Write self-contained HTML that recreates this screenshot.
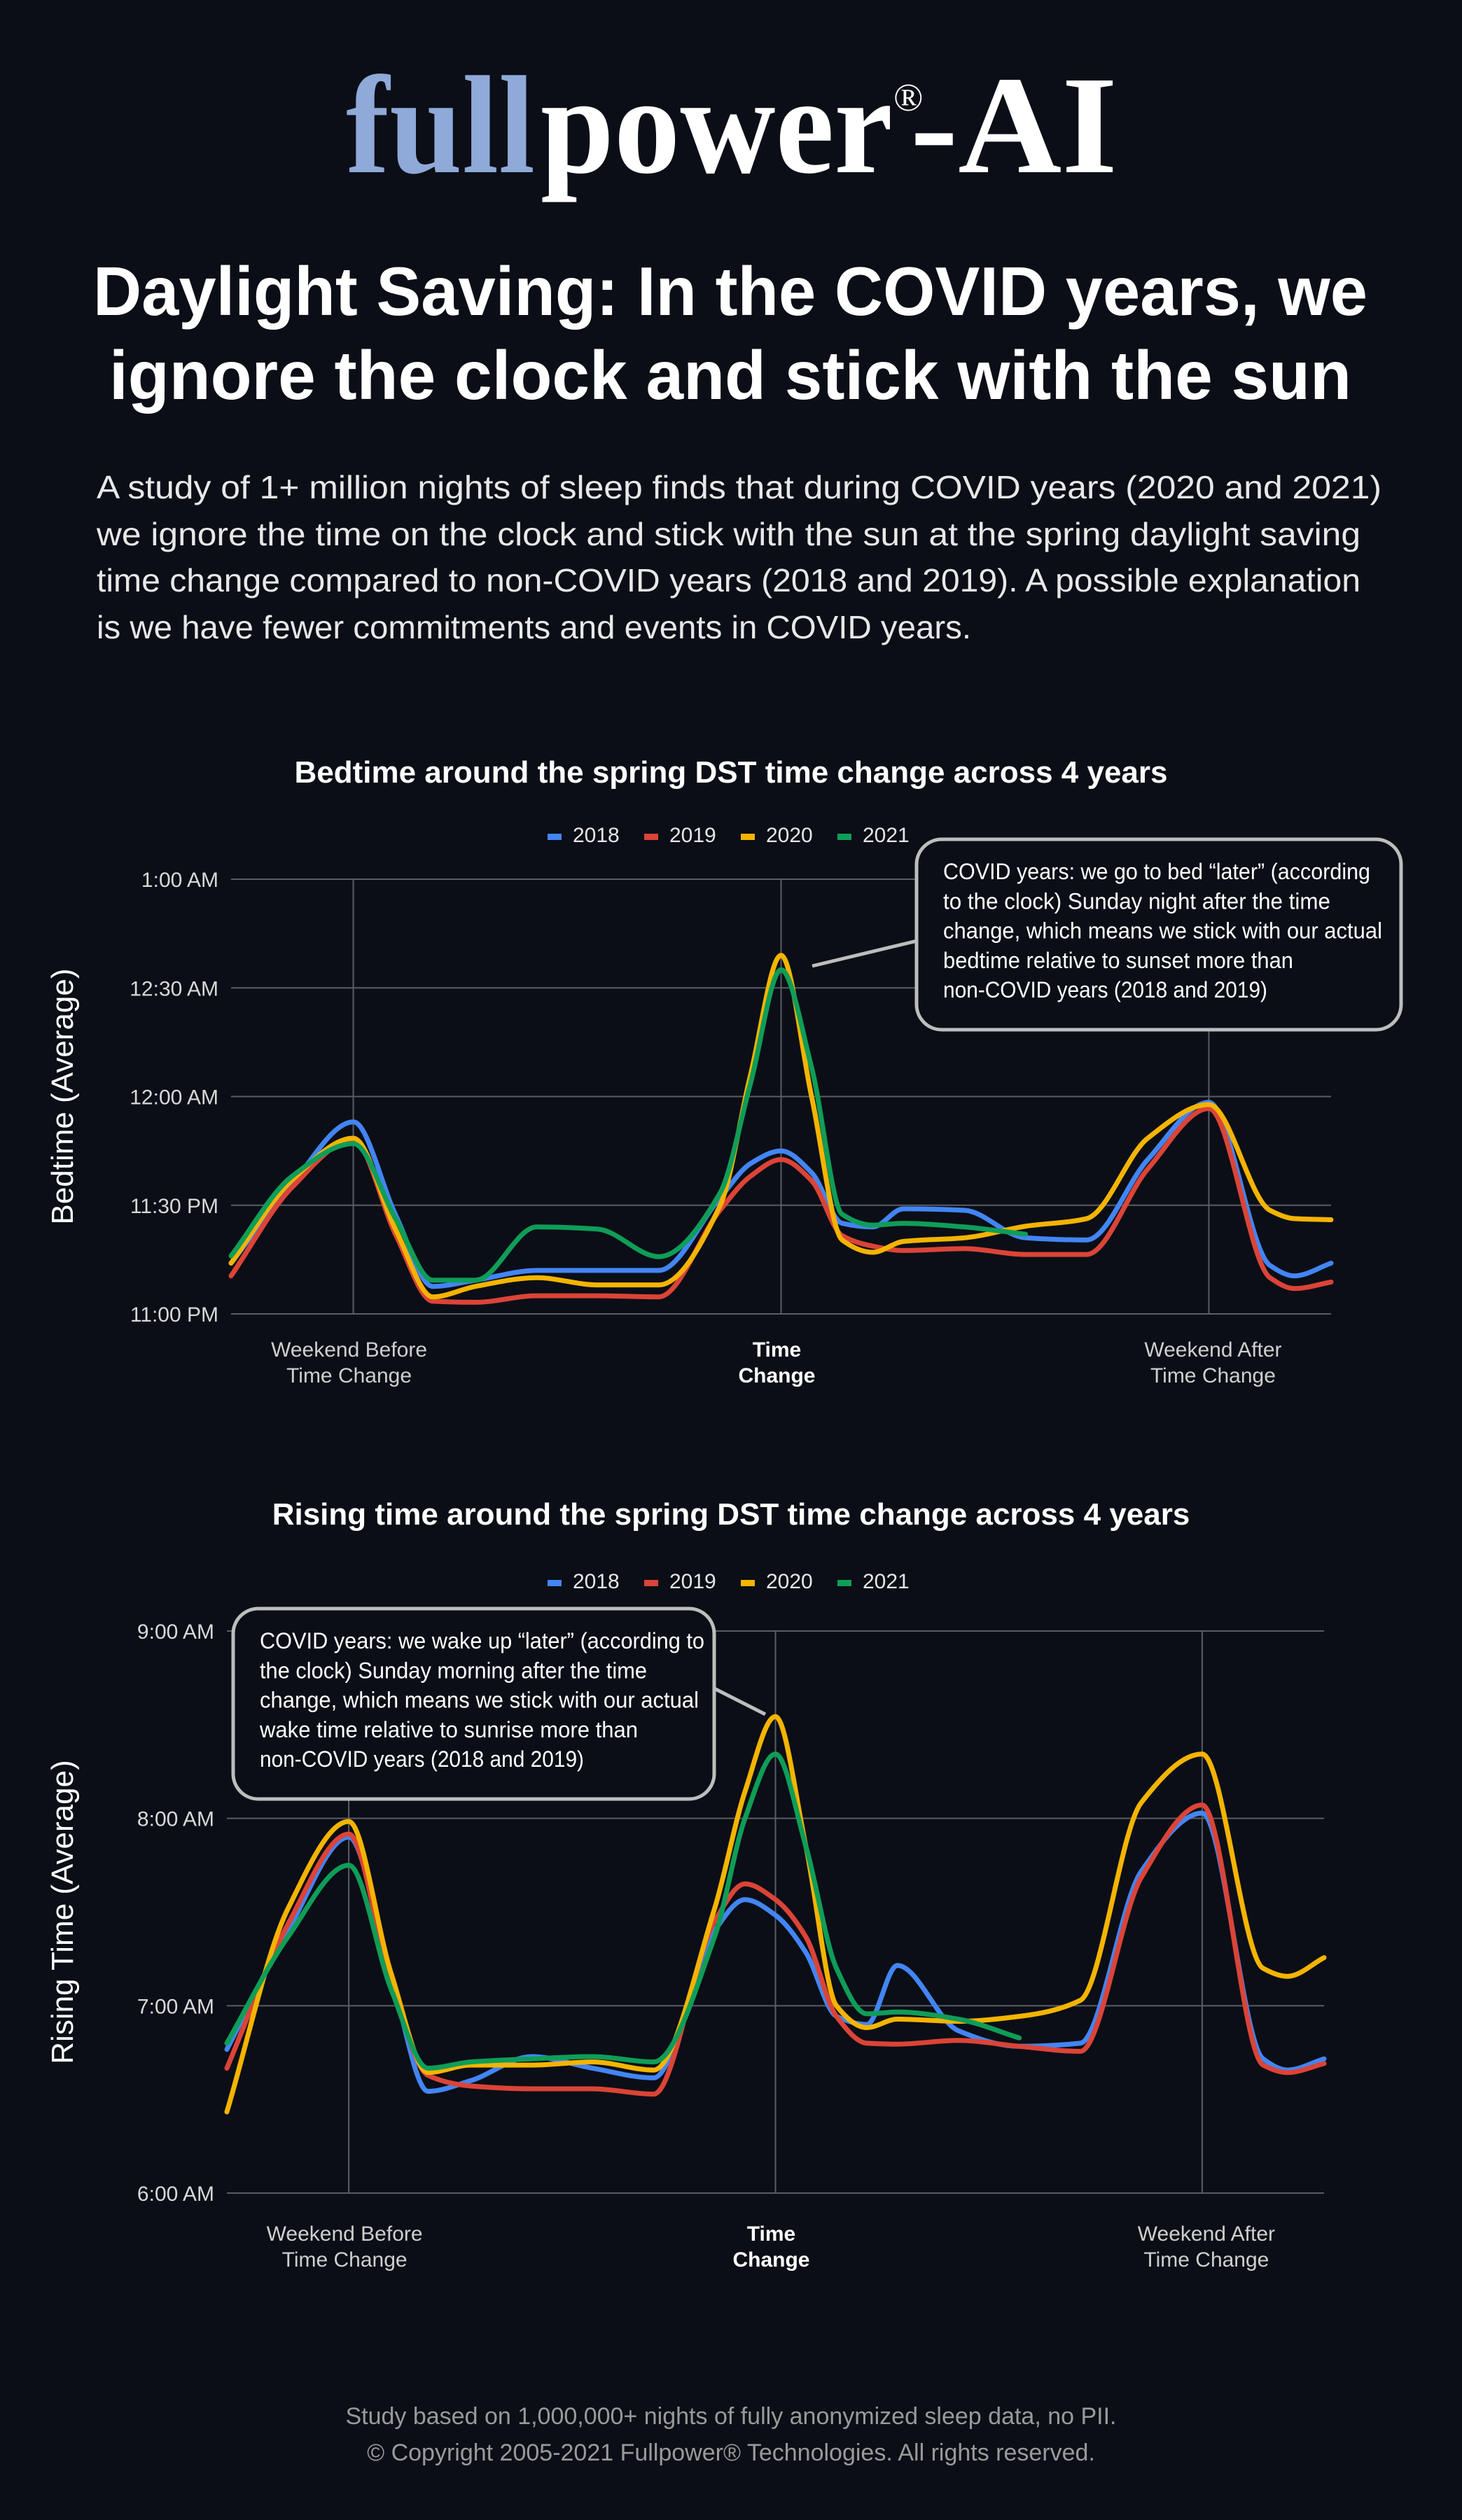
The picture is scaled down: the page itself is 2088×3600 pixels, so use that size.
<!DOCTYPE html>
<html><head><meta charset="utf-8"><style>
html,body{margin:0;padding:0;background:#0b0e16;}
svg{display:block;}
</style></head><body>
<svg id="page" width="2088" height="3600" viewBox="0 0 2088 3600" xmlns="http://www.w3.org/2000/svg" font-family="Liberation Sans, sans-serif">
<rect x="0" y="0" width="2088" height="3600" fill="#0b0e16"/>
<g font-family="Liberation Serif, serif" font-weight="bold" font-size="200">
<text x="494" y="246" fill="#8fa9d8" textLength="270" lengthAdjust="spacingAndGlyphs">full</text>
<text x="772" y="246" fill="#ffffff" textLength="503" lengthAdjust="spacingAndGlyphs">power</text>
<text x="1276" y="158" fill="#ffffff" font-size="56" font-weight="normal">®</text>
<text x="1300" y="246" fill="#ffffff" textLength="296" lengthAdjust="spacingAndGlyphs">-AI</text>
</g>
<g fill="#ffffff" font-weight="bold" font-size="98">
<text x="133" y="450" textLength="1820" lengthAdjust="spacingAndGlyphs">Daylight Saving: In the COVID years, we</text>
<text x="156" y="570" textLength="1774" lengthAdjust="spacingAndGlyphs">ignore the clock and stick with the sun</text>
</g>
<g fill="#e8e8e8" font-size="46">
<text x="138" y="712" textLength="1835" lengthAdjust="spacingAndGlyphs">A study of 1+ million nights of sleep finds that during COVID years (2020 and 2021)</text>
<text x="138" y="779" textLength="1805" lengthAdjust="spacingAndGlyphs">we ignore the time on the clock and stick with the sun at the spring daylight saving</text>
<text x="138" y="845" textLength="1805" lengthAdjust="spacingAndGlyphs">time change compared to non-COVID years (2018 and 2019). A possible explanation</text>
<text x="138" y="912" textLength="1249" lengthAdjust="spacingAndGlyphs">is we have fewer commitments and events in COVID years.</text>
</g>
<g id="chart1"></g>
<g id="chart2"></g>
<g fill="#9a9a9a" font-size="34" text-anchor="middle">
<text x="1044" y="3463">Study based on 1,000,000+ nights of fully anonymized sleep data, no PII.</text>
<text x="1044" y="3515">© Copyright 2005-2021 Fullpower® Technologies. All rights reserved.</text>
</g>
</svg>
<script>
const days = [-9,-8,-7,-6.3,-5.7,-5,-4,-3,-2,-1,-0.5,0,0.5,1,1.5,2,3,4,5,6,7,8,8.4,9];
const years = ['2018','2019','2020','2021'];
const colors = ['#4285f4','#db4437','#f4b400','#0f9d58'];
// Bedtime: minutes after 11:00 PM
const bed2018 = [14,36,53,27,7.6,9.3,12,12,12,32,41.5,45,39,25,24,29,28.6,21,20.4,42.6,58.4,13.4,10.5,14];
const bed2019 = [10.5,35,48,21.6,3.5,3.2,5,5,4.7,28.6,38,42.6,36.8,21.6,18.7,17.5,18,16.4,16.4,40,56.7,10,7,8.8];
const bed2020 = [14,37,48.5,23,4.7,7.6,10,8,8,29.8,66,99,60,20.4,17,20,21,24.2,26.3,48.5,57.8,28.6,26.3,26];
const bed2021 = [16,38,47,26,9.3,9.3,24,23.4,15.8,33.3,63.7,95,68,27.5,24.5,25,24,22,null,null,null,null,null,null];
const bedTicks = [0,30,60,90,120];
const bedTickLabels = ['11:00 PM','11:30 PM','12:00 AM','12:30 AM','1:00 AM'];
// Rising: minutes after 6:00 AM
const rise2018 = [46,84,114,69,32.6,36,43.7,40,36.9,84,94,89,77,56.6,54,72.9,52,47,48,103,121.7,43,39.4,43];
const rise2019 = [40,86,115,67,37.7,34.3,33.4,33.4,31.7,87,99,94,82,56.6,48,47.7,48.9,47,45.4,101,124.3,41,38.6,41.5];
const rise2020 = [26,91,119,70,38.6,41,41,42,39.4,91,128.6,152.6,111,60,53,55.7,55,56.6,61.7,125,140.6,72,69.4,75.4];
const rise2021 = [48,82,105,65,40,42,43,43.7,42,82,120,140.6,111,72,57.4,58,55.7,49.7,null,null,null,null,null,null];
const riseTicks = [0,60,120,180];
const riseTickLabels = ['6:00 AM','7:00 AM','8:00 AM','9:00 AM'];
const xCats = [-7,0,7];

const NS='http://www.w3.org/2000/svg';
function mk(tag, attrs, parent){const e=document.createElementNS(NS,tag);for(const k in attrs)e.setAttribute(k,attrs[k]);parent.appendChild(e);return e;}

function monotonePath(pts){
  const n=pts.length; if(n<2) return '';
  const dx=[],m=[],t=[];
  for(let i=0;i<n-1;i++){dx.push(pts[i+1][0]-pts[i][0]);m.push((pts[i+1][1]-pts[i][1])/dx[i]);}
  t[0]=m[0];t[n-1]=m[n-2];
  for(let i=1;i<n-1;i++){ if(m[i-1]*m[i]<=0) t[i]=0; else { const w1=2*dx[i]+dx[i-1], w2=dx[i]+2*dx[i-1]; t[i]=(w1+w2)/(w1/m[i-1]+w2/m[i]); } }
  let d='M'+pts[0][0].toFixed(1)+','+pts[0][1].toFixed(1);
  for(let i=0;i<n-1;i++){const h=dx[i]/3;
    d+=' C'+(pts[i][0]+h).toFixed(1)+','+(pts[i][1]+t[i]*h).toFixed(1)+' '+(pts[i+1][0]-h).toFixed(1)+','+(pts[i+1][1]-t[i+1]*h).toFixed(1)+' '+pts[i+1][0].toFixed(1)+','+pts[i+1][1].toFixed(1);}
  return d;
}

function drawChart(g, cfg){
  const xs = d => cfg.x0 + (d - (-9)) / 18 * (cfg.x1 - cfg.x0);
  const ys = v => cfg.yb - (v - cfg.ticks[0]) / (cfg.ticks[cfg.ticks.length-1]-cfg.ticks[0]) * (cfg.yb - cfg.yt);
  const title = mk('text',{x:1044,y:cfg.titleY,fill:'#fff','font-weight':'bold','font-size':44,'text-anchor':'middle'},g);
  
  
  title.textContent=cfg.title;
  const lg = mk('g',{},g);
  
  
  years.forEach((yr,i)=>{
    const lx = 782 + i*138;
    const it = mk('g',{},lg);
    
    
    mk('rect',{x:lx,y:cfg.legendY-12,width:20,height:9,fill:colors[i]},it);
    const t=mk('text',{x:lx+36,y:cfg.legendY,fill:'#e6e6e6','font-size':30},it);
    t.textContent=yr;
  });
  cfg.ticks.forEach((tv,i)=>{
    const gl=mk('line',{x1:cfg.x0,x2:cfg.x1,y1:ys(tv),y2:ys(tv),stroke:'#5a5d63','stroke-width':2},g);
    
    
    const tl=mk('text',{x:cfg.x0-18,y:ys(tv)+11,fill:'#d8d8d8','font-size':30,'text-anchor':'end'},g);
    
    
    tl.textContent=cfg.labels[i];
  });
  xCats.forEach(d=>{
    const vl=mk('line',{x1:xs(d),x2:xs(d),y1:cfg.yt,y2:cfg.yb,stroke:'#5a5d63','stroke-width':2},g);
    
    
  });
  const xl=[['Weekend Before','Time Change',false],['Time','Change',true],['Weekend After','Time Change',false]];
  xCats.forEach((d,i)=>{
    const cx = xs(d) + (i==2?6:-6);
    const t=mk('text',{x:cx,y:cfg.xlabY,fill:i==1?'#ffffff':'#cfcfcf','font-size':30,'text-anchor':'middle','font-weight':xl[i][2]?'bold':'normal'},g);
    
    
    const a=mk('tspan',{x:cx},t);a.textContent=xl[i][0];
    const b=mk('tspan',{x:cx,dy:37},t);b.textContent=xl[i][1];
  });
  const yt=mk('text',{transform:'translate(104,'+((cfg.yt+cfg.yb)/2)+') rotate(-90)',fill:'#fff','font-size':44,'text-anchor':'middle'},g);
  
  
  yt.textContent=cfg.yTitle;
  cfg.series.forEach((s,i)=>{
    const pts=[]; s.forEach((v,j)=>{ if(v!==null) pts.push([xs(days[j]),ys(v)]); });
    const p=mk('path',{d:monotonePath(pts),fill:'none',stroke:colors[i],'stroke-width':7,'stroke-linejoin':'round','stroke-linecap':'round'},g);
    
    
  });
  const an=mk('g',{},g);
  
  
  mk('line',{x1:cfg.lead[0],y1:cfg.lead[1],x2:cfg.lead[2],y2:cfg.lead[3],stroke:'#bdbdbd','stroke-width':5},an);
  mk('rect',{x:cfg.box[0],y:cfg.box[1],width:cfg.box[2],height:cfg.box[3],rx:36,fill:'#0b0e16',stroke:'#bdbdbd','stroke-width':5},an);
  cfg.note.forEach((ln,i)=>{
    const t=mk('text',{x:cfg.box[0]+38,y:cfg.box[1]+57+i*42.3,fill:'#fff','font-size':32,textLength:ln[1],lengthAdjust:'spacingAndGlyphs'},an);
    t.textContent=ln[0];
  });
}

drawChart(document.getElementById('chart1'),{
  title:'Bedtime around the spring DST time change across 4 years', titleY:1118, legendY:1203,
  x0:330,x1:1901,yt:1256,yb:1877,ticks:bedTicks,labels:bedTickLabels,xlabY:1938,
  yTitle:'Bedtime (Average)', series:[bed2018,bed2019,bed2020,bed2021],
  lead:[1160,1380,1310,1344], box:[1309,1199,692,272],
  note:[['COVID years: we go to bed “later” (according',610],['to the clock) Sunday night after the time',553],['change, which means we stick with our actual',627],['bedtime relative to sunset more than',500],['non-COVID years (2018 and 2019)',463]]
});
drawChart(document.getElementById('chart2'),{
  title:'Rising time around the spring DST time change across 4 years', titleY:2178, legendY:2269,
  x0:324,x1:1891,yt:2330,yb:3133,ticks:riseTicks,labels:riseTickLabels,xlabY:3201,
  yTitle:'Rising Time (Average)', series:[rise2018,rise2019,rise2020,rise2021],
  lead:[1020,2412,1093,2449], box:[333,2298,687,272],
  note:[['COVID years: we wake up “later” (according to',635],['the clock) Sunday morning after the time',553],['change, which means we stick with our actual',627],['wake time relative to sunrise more than',540],['non-COVID years (2018 and 2019)',463]]
});
</script>
</body></html>
